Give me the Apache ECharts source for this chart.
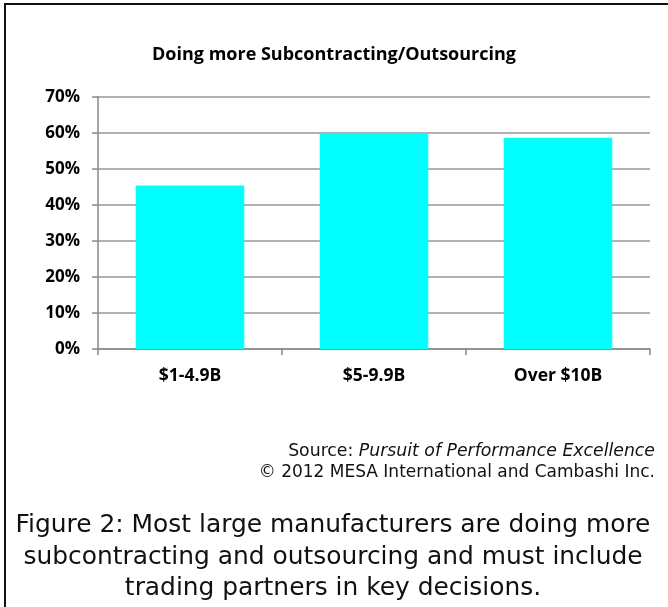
<!DOCTYPE html>
<html>
<head>
<meta charset="utf-8">
<script src="https://cdn.jsdelivr.net/npm/echarts@6/dist/echarts.min.js"></script>
<style>
html,body{margin:0;padding:0;background:#fff;}
#c{width:668px;height:607px;}
</style>
</head>
<body>
<div id="c"></div>
<script>
var categories = ['$1-4.9B', '$5-9.9B', 'Over $10B'];
var values = [45.4, 60.0, 58.7];
var yTicks = [0, 10, 20, 30, 40, 50, 60, 70];
var titleText = 'Doing more Subcontracting/Outsourcing';
var captionLines = ['Figure 2: Most large manufacturers are doing more', 'subcontracting and outsourcing and must include', 'trading partners in key decisions.'];

var chart = echarts.init(document.getElementById('c'), null, {renderer: 'canvas'});
var labelFont = '"Open Sans", "Noto Sans", sans-serif';
chart.setOption({
  animation: false,
  backgroundColor: '#fff',
  title: {
    text: titleText,
    left: 'center',
    top: 41,
    textStyle: {fontFamily: labelFont, fontWeight: 'bold', fontSize: 18, color: '#000'}
  },
  grid: {left: 98, right: 18, top: 97, bottom: 258, containLabel: false},
  xAxis: {
    type: 'category',
    data: categories,
    axisLine: {lineStyle: {color: '#888', width: 1.5}},
    axisTick: {show: true, length: 6, lineStyle: {color: '#888', width: 1.5}},
    axisLabel: {fontFamily: labelFont, fontWeight: 'bold', fontSize: 17.5, color: '#000', margin: 18}
  },
  yAxis: {
    type: 'value',
    min: yTicks[0],
    max: yTicks[yTicks.length - 1],
    interval: 10,
    axisLine: {show: true, lineStyle: {color: '#888', width: 1.5}},
    axisTick: {show: true, length: 6, lineStyle: {color: '#888', width: 1.5}},
    splitLine: {show: true, lineStyle: {color: '#999', width: 1.5}},
    axisLabel: {fontFamily: labelFont, fontWeight: 'bold', fontSize: 17, color: '#000', margin: 18, formatter: '{value}%'}
  },
  series: [{
    type: 'bar',
    data: values,
    barWidth: '59%',
    itemStyle: {color: '#00FFFF'}
  }],
  graphic: [
    {type: 'rect', shape: {x: 5, y: 4, width: 700, height: 700}, style: {fill: 'none', stroke: '#111', lineWidth: 2}, silent: true},
    {type: 'text', x: 655, y: 443,
      style: {text: '{n|Source: }{i|Pursuit of Performance Excellence}', textAlign: 'right',
        rich: {n: {fontFamily: 'DejaVu Sans', fontSize: 17.3, fill: '#111'}, i: {fontFamily: 'DejaVu Sans', fontStyle: 'italic', fontSize: 17.3, fill: '#111'}}}},
    {type: 'text', x: 655, y: 464,
      style: {text: '\u00a9 2012 MESA International and Cambashi Inc.', fontFamily: 'DejaVu Sans', fontSize: 17, fill: '#111', textAlign: 'right'}},
    {type: 'text', x: 333, y: 510,
      style: {text: captionLines.join('\n'), fontFamily: 'DejaVu Sans', fontSize: 24.9, lineHeight: 31.5, fill: '#111', textAlign: 'center'}}
  ]
});
</script>
</body>
</html>
